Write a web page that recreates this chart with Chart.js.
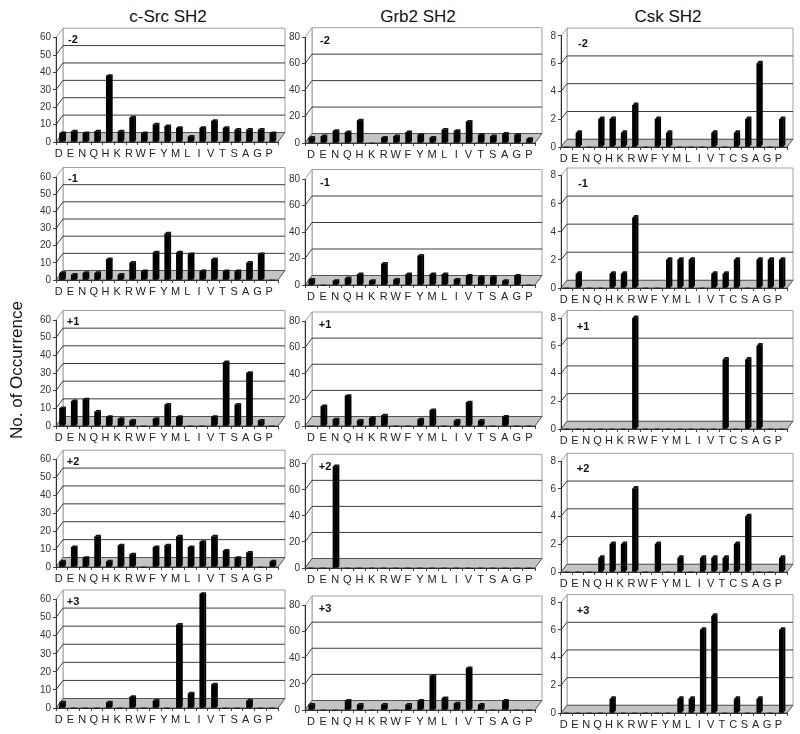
<!DOCTYPE html>
<html><head><meta charset="utf-8">
<script src="https://cdn.jsdelivr.net/npm/chart.js@4.4.0/dist/chart.umd.min.js"></script>
<style>
body{margin:0;background:#fff;width:800px;height:734px;position:relative;overflow:hidden;font-family:"Liberation Sans",Arial,sans-serif;}
canvas{position:absolute;}
.t{position:absolute;transform:translate(-50%,-50%);white-space:nowrap;color:#111;}
.title{font-size:17px;}
.plabel{font-size:11px;font-weight:bold;}
.ylab{font-size:17px;transform:translate(-50%,-50%) rotate(-90deg);}
</style></head><body>
<script>
// ---- categories ----
const srcCats  = ['D','E','N','Q','H','K','R','W','F','Y','M','L','I','V','T','S','A','G','P'];
const grb2Cats = ['D','E','N','Q','H','K','R','W','F','Y','M','L','I','V','T','S','A','G','P'];
const cskCats  = ['D','E','N','Q','H','K','R','W','F','Y','M','L','I','V','T','C','S','A','G','P'];
const positions = ['-2','-1','+1','+2','+3'];
const columnTitles = ['c-Src SH2','Grb2 SH2','Csk SH2'];

// ---- c-Src SH2 occurrences ----
const srcM2 = [5,6,5,6,38,6,14,5,10,9,8,3,8,12,8,7,7,7,5];
const srcM1 = [4,3,4,4,12,3,10,5,16,27,16,15,5,12,5,5,10,15,0];
const srcP1 = [10,14,15,8,5,4,3,0,4,12,5,0,0,5,36,12,30,3,0];
const srcP2 = [3,11,5,17,3,12,7,0,11,12,17,11,14,17,9,5,8,0,3];
const srcP3 = [3,0,0,0,3,0,6,0,4,0,46,8,63,13,0,0,4,0,0];

// ---- Grb2 SH2 occurrences ----
const grbM2 = [4,5,9,8,17,0,4,5,8,6,4,10,9,16,6,5,7,6,3];
const grbM1 = [4,0,3,5,8,3,16,4,8,22,8,8,4,7,6,6,3,7,0];
const grbP1 = [0,15,5,23,4,6,8,0,0,5,12,0,4,18,4,0,7,0,0];
const grbP2 = [0,0,78,0,0,0,0,0,0,0,0,0,0,0,0,0,0,0,0];
const grbP3 = [4,0,0,7,4,0,4,0,4,7,26,9,5,32,4,0,7,0,0];

// ---- Csk SH2 occurrences ----
const cskM2 = [0,1,0,2,2,1,3,0,2,1,0,0,0,1,0,1,2,6,0,2];
const cskM1 = [0,1,0,0,1,1,5,0,0,2,2,2,0,1,1,2,0,2,2,2];
const cskP1 = [0,0,0,0,0,0,8,0,0,0,0,0,0,0,5,0,5,6,0,0];
const cskP2 = [0,0,0,1,2,2,6,0,2,0,1,0,1,1,1,2,4,0,0,1];
const cskP3 = [0,0,0,0,1,0,0,0,0,0,1,1,6,7,0,1,0,1,0,6];

// ---- axis settings ----
const srcAxis = {max:60, step:10};
const grbAxis = {max:80, step:20};
const cskAxis = {max:8,  step:2};

// ---- layout (page geometry of each panel's front plane) ----
const columns = [
  {cats:srcCats,  series:[srcM2,srcM1,srcP1,srcP2,srcP3], axis:srcAxis, L:56,  R:278, dx:7, dy:-9.5, bw:4.6, cap:1.8, lo:-3, offX:10, offY:10.5, tx:168,
   rows:[[141.5,37.7],[280,177],[426,320],[566.5,459.7],[707.5,599.5]]},
  {cats:grb2Cats, series:[grbM2,grbM1,grbP1,grbP2,grbP3], axis:grbAxis, L:305, R:535, dx:7, dy:-9.5, bw:4.6, cap:1.8, lo:0, offX:13, offY:12, tx:418,
   rows:[[142.8,37.2],[284.5,179],[425.5,321.5],[567.8,463.8],[709.5,605.5]]},
  {cats:cskCats,  series:[cskM2,cskM1,cskP1,cskP2,cskP3], axis:cskAxis, L:561, R:787, dx:6, dy:-7.7, bw:4, cap:2.8, lo:-3, offX:16, offY:15, tx:668,
   rows:[[147,35.8],[287.7,175.7],[429.4,318.2],[571.7,461],[712.7,602.3]]}
];

const FONT = '"Liberation Sans", Arial, sans-serif';

const box3d = {
  id:'box3d',
  beforeDraw(chart, args, o){
    const ctx = chart.ctx, a = chart.chartArea, ys = chart.scales.y;
    const dx = o.dx, dy = o.dy;
    const yTop = ys.getPixelForValue(ys.max), y0 = ys.getPixelForValue(0);
    const l = a.left, r = a.right;
    ctx.save();
    ctx.lineWidth = 1;
    ctx.fillStyle = '#fff';
    ctx.strokeStyle = '#a0a0a0';
    ctx.beginPath();
    ctx.rect(l+dx, yTop+dy, r-l, y0-yTop);
    ctx.fill(); ctx.stroke();
    ctx.beginPath();
    ctx.moveTo(l, yTop); ctx.lineTo(l+dx, yTop+dy); ctx.lineTo(l+dx, y0+dy); ctx.lineTo(l, y0); ctx.closePath();
    ctx.fill(); ctx.stroke();
    ctx.strokeStyle = '#3c3c3c';
    ys.ticks.forEach(t => {
      if (t.value <= 0 || t.value >= ys.max) return;
      const y = ys.getPixelForValue(t.value);
      ctx.beginPath();
      ctx.moveTo(l, y); ctx.lineTo(l+dx, y+dy); ctx.lineTo(r+dx, y+dy);
      ctx.stroke();
    });
    ctx.fillStyle = '#c4c4c4';
    ctx.strokeStyle = '#555';
    ctx.beginPath();
    ctx.moveTo(l, y0); ctx.lineTo(r, y0); ctx.lineTo(r+dx, y0+dy); ctx.lineTo(l+dx, y0+dy); ctx.closePath();
    ctx.fill(); ctx.stroke();
    ctx.restore();
  },
  afterDatasetsDraw(chart, args, o){
    const ctx = chart.ctx, ys = chart.scales.y;
    const base = ys.getPixelForValue(0);
    const s = o.cap;
    const meta = chart.getDatasetMeta(0);
    const vals = chart.data.datasets[0].data;
    ctx.save();
    meta.data.forEach((el, i) => {
      if (!vals[i]) return;
      const p = el.getProps(['x','y','width'], true);
      const l = p.x - p.width/2, r = p.x + p.width/2, y = p.y;
      const sx = Math.min(s, 2);
      ctx.fillStyle = '#111';
      ctx.beginPath();
      ctx.moveTo(l, y); ctx.lineTo(l+sx, y-s); ctx.lineTo(r+sx, y-s); ctx.lineTo(r, y); ctx.closePath();
      ctx.fill();
      ctx.fillStyle = '#000';
      ctx.beginPath();
      ctx.moveTo(r, y); ctx.lineTo(r+sx, y-s); ctx.lineTo(r+sx, base-s); ctx.lineTo(r, base); ctx.closePath();
      ctx.fill();
    });
    ctx.restore();
  }
};

function addText(cls, txt, x, y){
  const d = document.createElement('div');
  d.className = 't ' + cls;
  d.textContent = txt;
  d.style.left = x + 'px';
  d.style.top = y + 'px';
  document.body.appendChild(d);
}

columns.forEach((col, ci) => {
  addText('title', columnTitles[ci], col.tx, 17);
  col.rows.forEach((g, ri) => {
    const y0 = g[0], ymax = g[1];
    const top = Math.floor(ymax) - 16;
    const padT = ymax - top;
    const left = col.L - 30;
    const W = Math.round(col.R - col.L) + 30 + 12;
    const H = Math.round(y0 - top) + 22;
    const cv = document.createElement('canvas');
    cv.width = W; cv.height = H;
    cv.style.left = left + 'px'; cv.style.top = top + 'px';
    cv.style.width = W + 'px'; cv.style.height = H + 'px';
    document.body.appendChild(cv);
    new Chart(cv, {
      type:'bar',
      data:{labels:col.cats, datasets:[{data:col.series[ri], backgroundColor:'#000', barThickness:col.bw, borderWidth:0, clip:false}]},
      options:{
        responsive:false, animation:false, devicePixelRatio:1,
        layout:{padding:{top:padT, right:12, left:0, bottom:0}},
        plugins:{legend:{display:false}, tooltip:{enabled:false}, box3d:{dx:col.dx, dy:col.dy, cap:col.cap}},
        scales:{
          x:{
            offset:true,
            grid:{display:true, drawOnChartArea:false, drawTicks:true, tickLength:3, color:'#444', offset:true},
            border:{display:true, color:'#333'},
            ticks:{font:{family:FONT, size:11}, color:'#222', padding:2, labelOffset:col.lo, autoSkip:false, maxRotation:0},
            afterFit(s){ s.height = 22; }
          },
          y:{
            min:0, max:col.axis.max,
            ticks:{stepSize:col.axis.step, font:{family:FONT, size:10}, color:'#333', padding:2},
            grid:{drawOnChartArea:false, drawTicks:true, tickLength:3, color:'#444'},
            border:{display:true, color:'#333'},
            afterFit(s){ s.width = 30; }
          }
        }
      },
      plugins:[box3d]
    });
    addText('plabel', positions[ri], col.L + col.dx + col.offX, ymax + col.dy + col.offY);
  });
});
addText('ylab', 'No. of Occurrence', 17, 370);
</script>
</body></html>
